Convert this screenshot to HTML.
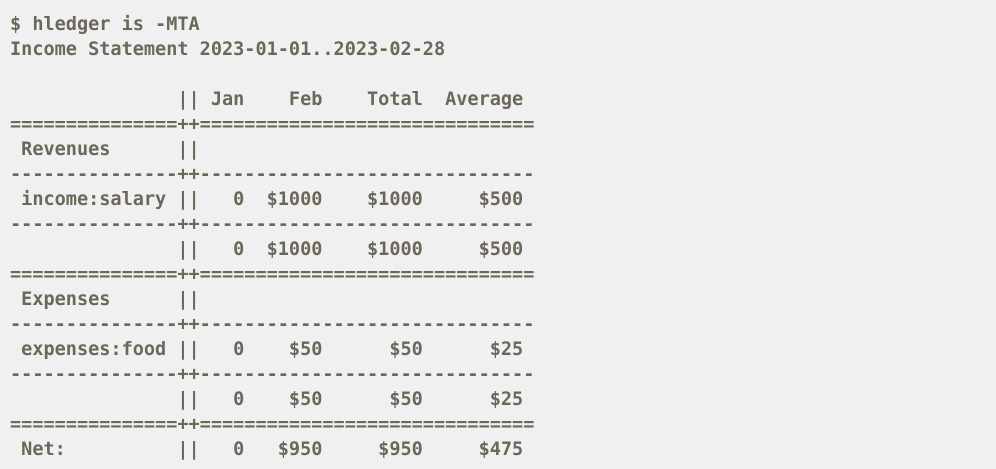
<!DOCTYPE html>
<html><head><meta charset="utf-8"><style>
html,body{margin:0;padding:0;background:#f0f0f0;width:996px;height:469px;overflow:hidden}
pre{margin:0;padding:12px 0 0 10px;font-family:"DejaVu Sans Mono","Liberation Mono",monospace;font-weight:bold;font-size:18.55px;line-height:25px;color:#6b6759}
</style></head><body>
<pre>$ hledger is -MTA
Income Statement 2023-01-01..2023-02-28

               || Jan    Feb    Total  Average 
===============++==============================
 Revenues      ||                              
---------------++------------------------------
 income:salary ||   0  $1000    $1000     $500 
---------------++------------------------------
               ||   0  $1000    $1000     $500 
===============++==============================
 Expenses      ||                              
---------------++------------------------------
 expenses:food ||   0    $50      $50      $25 
---------------++------------------------------
               ||   0    $50      $50      $25 
===============++==============================
 Net:          ||   0   $950     $950     $475 </pre>
</body></html>
